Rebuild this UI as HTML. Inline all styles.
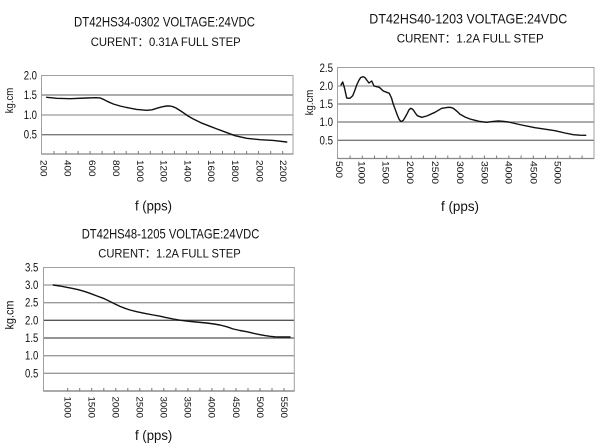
<!DOCTYPE html>
<html><head><meta charset="utf-8"><style>
html,body{margin:0;padding:0;background:#fff;}
svg{display:block;}
text{font-family:"Liberation Sans","Noto Sans CJK SC",sans-serif;fill:#111;}
</style></head><body>
<svg width="603" height="446" viewBox="0 0 603 446" xmlns="http://www.w3.org/2000/svg">
<rect width="603" height="446" fill="#fff"/>

<!-- ============ CHART 1 ============ -->
<text x="74" y="26.7" font-size="14" textLength="181" lengthAdjust="spacingAndGlyphs">DT42HS34-0302 VOLTAGE:24VDC</text>
<text x="90.7" y="46" font-size="12" textLength="150" lengthAdjust="spacingAndGlyphs">CURENT：0.31A  FULL STEP</text>
<g stroke="#7a7a7a" stroke-width="1.3">
<line x1="41.5" y1="95" x2="293" y2="95"/>
<line x1="41.5" y1="115" x2="293" y2="115" stroke="#9a9a9a"/>
<line x1="41.5" y1="134.7" x2="293" y2="134.7"/>
</g>
<rect x="41.5" y="75.5" width="251.5" height="78.5" fill="none" stroke="#a0a0a0" stroke-width="1"/>
<line x1="41.5" y1="154" x2="293" y2="154" stroke="#888" stroke-width="1.2"/>
<g stroke="#777" stroke-width="1">
<line x1="54" y1="151" x2="54" y2="154"/><line x1="66" y1="151" x2="66" y2="154"/><line x1="78.1" y1="151" x2="78.1" y2="154"/><line x1="90.1" y1="151" x2="90.1" y2="154"/><line x1="102.1" y1="151" x2="102.1" y2="154"/><line x1="114.2" y1="151" x2="114.2" y2="154"/><line x1="126.2" y1="151" x2="126.2" y2="154"/><line x1="138.3" y1="151" x2="138.3" y2="154"/><line x1="150.3" y1="151" x2="150.3" y2="154"/><line x1="162.3" y1="151" x2="162.3" y2="154"/><line x1="174.4" y1="151" x2="174.4" y2="154"/><line x1="186.4" y1="151" x2="186.4" y2="154"/><line x1="198.4" y1="151" x2="198.4" y2="154"/><line x1="210.5" y1="151" x2="210.5" y2="154"/><line x1="222.5" y1="151" x2="222.5" y2="154"/><line x1="234.6" y1="151" x2="234.6" y2="154"/><line x1="246.6" y1="151" x2="246.6" y2="154"/><line x1="258.6" y1="151" x2="258.6" y2="154"/><line x1="270.7" y1="151" x2="270.7" y2="154"/><line x1="282.7" y1="151" x2="282.7" y2="154"/>
</g>
<g font-size="12" text-anchor="end" dominant-baseline="central">
<text x="37" y="75.5" textLength="13.3" lengthAdjust="spacingAndGlyphs">2.0</text>
<text x="37" y="95" textLength="13.3" lengthAdjust="spacingAndGlyphs">1.5</text>
<text x="37" y="115" textLength="13.3" lengthAdjust="spacingAndGlyphs">1.0</text>
<text x="37" y="134.7" textLength="13.3" lengthAdjust="spacingAndGlyphs">0.5</text>
</g>
<g font-size="9" dominant-baseline="central">
<text transform="translate(43.7,160) rotate(90)" textLength="16.5" lengthAdjust="spacingAndGlyphs">200</text>
<text transform="translate(67.6,160) rotate(90)" textLength="16.5" lengthAdjust="spacingAndGlyphs">400</text>
<text transform="translate(92,160) rotate(90)" textLength="16.5" lengthAdjust="spacingAndGlyphs">600</text>
<text transform="translate(116,160) rotate(90)" textLength="16.5" lengthAdjust="spacingAndGlyphs">800</text>
<text transform="translate(139.8,160) rotate(90)" textLength="22" lengthAdjust="spacingAndGlyphs">1000</text>
<text transform="translate(163.3,160) rotate(90)" textLength="22" lengthAdjust="spacingAndGlyphs">1200</text>
<text transform="translate(187.3,160) rotate(90)" textLength="22" lengthAdjust="spacingAndGlyphs">1400</text>
<text transform="translate(211,160) rotate(90)" textLength="22" lengthAdjust="spacingAndGlyphs">1600</text>
<text transform="translate(235,160) rotate(90)" textLength="22" lengthAdjust="spacingAndGlyphs">1800</text>
<text transform="translate(259.3,160) rotate(90)" textLength="22" lengthAdjust="spacingAndGlyphs">2000</text>
<text transform="translate(283,160) rotate(90)" textLength="22" lengthAdjust="spacingAndGlyphs">2200</text>
</g>
<text transform="translate(10,100.5) rotate(-90)" font-size="11" text-anchor="middle" dominant-baseline="central" textLength="25.5" lengthAdjust="spacingAndGlyphs">kg.cm</text>
<text x="135" y="210.5" font-size="13.5" textLength="37" lengthAdjust="spacingAndGlyphs">f (pps)</text>
<polyline fill="none" stroke="#111" stroke-width="1.4" stroke-linejoin="round" stroke-linecap="round"
points="46.7,97.3 56.7,98.3 70,98.7 86.7,98 96,97.7 100,97.9 103.3,99.3 108,101.7 113.3,104 120,106 126.7,107.5 136.7,109.4 146.7,110.3 152,109.8 156.7,108.3 162,106.8 166.7,106 170,106 173,106.7 176,108 180,110.5 183.3,112.7 188,116 193.3,119 201,122.8 210,126.3 217,129 223.3,131.3 235,135.7 246.7,138.3 260,139.7 273.3,140.4 286.7,142"/>

<!-- ============ CHART 2 ============ -->
<text x="369.3" y="23.3" font-size="14" textLength="198" lengthAdjust="spacingAndGlyphs">DT42HS40-1203 VOLTAGE:24VDC</text>
<text x="396.7" y="42.3" font-size="12" textLength="147" lengthAdjust="spacingAndGlyphs">CURENT：1.2A  FULL STEP</text>
<g stroke="#7a7a7a" stroke-width="1.3">
<line x1="337.5" y1="86" x2="594" y2="86" stroke="#9a9a9a"/>
<line x1="337.5" y1="104" x2="594" y2="104"/>
<line x1="337.5" y1="122" x2="594" y2="122"/>
<line x1="337.5" y1="140.3" x2="594" y2="140.3"/>
</g>
<rect x="337.5" y="67.5" width="256.5" height="91" fill="none" stroke="#a0a0a0" stroke-width="1"/>
<line x1="337.5" y1="158.5" x2="594" y2="158.5" stroke="#888" stroke-width="1.2"/>
<g stroke="#777" stroke-width="1">
<line x1="350.1" y1="155.5" x2="350.1" y2="158.5"/><line x1="362.3" y1="155.5" x2="362.3" y2="158.5"/><line x1="374.5" y1="155.5" x2="374.5" y2="158.5"/><line x1="386.7" y1="155.5" x2="386.7" y2="158.5"/><line x1="398.9" y1="155.5" x2="398.9" y2="158.5"/><line x1="411.2" y1="155.5" x2="411.2" y2="158.5"/><line x1="423.4" y1="155.5" x2="423.4" y2="158.5"/><line x1="435.6" y1="155.5" x2="435.6" y2="158.5"/><line x1="447.8" y1="155.5" x2="447.8" y2="158.5"/><line x1="460" y1="155.5" x2="460" y2="158.5"/><line x1="472.2" y1="155.5" x2="472.2" y2="158.5"/><line x1="484.4" y1="155.5" x2="484.4" y2="158.5"/><line x1="496.6" y1="155.5" x2="496.6" y2="158.5"/><line x1="508.9" y1="155.5" x2="508.9" y2="158.5"/><line x1="521.1" y1="155.5" x2="521.1" y2="158.5"/><line x1="533.3" y1="155.5" x2="533.3" y2="158.5"/><line x1="545.5" y1="155.5" x2="545.5" y2="158.5"/><line x1="557.7" y1="155.5" x2="557.7" y2="158.5"/><line x1="569.9" y1="155.5" x2="569.9" y2="158.5"/><line x1="582.1" y1="155.5" x2="582.1" y2="158.5"/>
</g>
<g font-size="12" text-anchor="end" dominant-baseline="central">
<text x="333" y="68" textLength="13.5" lengthAdjust="spacingAndGlyphs">2.5</text>
<text x="333" y="86" textLength="13.5" lengthAdjust="spacingAndGlyphs">2.0</text>
<text x="333" y="104" textLength="13.5" lengthAdjust="spacingAndGlyphs">1.5</text>
<text x="333" y="122" textLength="13.5" lengthAdjust="spacingAndGlyphs">1.0</text>
<text x="333" y="140.3" textLength="13.5" lengthAdjust="spacingAndGlyphs">0.5</text>
</g>
<g font-size="9" dominant-baseline="central">
<text transform="translate(339,161) rotate(90)" textLength="17" lengthAdjust="spacingAndGlyphs">500</text>
<text transform="translate(361.7,161) rotate(90)" textLength="23" lengthAdjust="spacingAndGlyphs">1000</text>
<text transform="translate(385.7,161) rotate(90)" textLength="23" lengthAdjust="spacingAndGlyphs">1500</text>
<text transform="translate(410,161) rotate(90)" textLength="23" lengthAdjust="spacingAndGlyphs">2000</text>
<text transform="translate(435,161) rotate(90)" textLength="23" lengthAdjust="spacingAndGlyphs">2500</text>
<text transform="translate(460,161) rotate(90)" textLength="23" lengthAdjust="spacingAndGlyphs">3000</text>
<text transform="translate(484.3,161) rotate(90)" textLength="23" lengthAdjust="spacingAndGlyphs">3500</text>
<text transform="translate(508.3,161) rotate(90)" textLength="23" lengthAdjust="spacingAndGlyphs">4000</text>
<text transform="translate(533.3,161) rotate(90)" textLength="23" lengthAdjust="spacingAndGlyphs">4500</text>
<text transform="translate(557.7,161) rotate(90)" textLength="23" lengthAdjust="spacingAndGlyphs">5000</text>
</g>
<text transform="translate(310,102.5) rotate(-90)" font-size="11" text-anchor="middle" dominant-baseline="central" textLength="25.5" lengthAdjust="spacingAndGlyphs">kg.cm</text>
<text x="441" y="211" font-size="13.5" textLength="38" lengthAdjust="spacingAndGlyphs">f (pps)</text>
<polyline fill="none" stroke="#111" stroke-width="1.4" stroke-linejoin="round" stroke-linecap="round"
points="341,85 342.7,82 344.5,88 346.7,98 350,98.3 352.7,95.7 355,90 356.7,85 358.8,80.5 360.7,77.5 363.3,76.7 365.2,77.8 366.7,80 369,83 371.7,81 374,86 376.7,86.7 379.3,87.3 383.3,91 386.7,92.3 389.3,93.3 391.5,98 393.3,104.3 397.3,115 399.2,119.5 400.7,121.3 402,121.2 403.3,120.3 405.3,117 407.3,113.3 409,109.8 410.7,108.3 412,108.8 413.3,110 415.3,113 417.3,115.7 421.7,117.3 426.7,116 435,112.3 441.7,108.3 448.3,107.3 451,107.5 453.3,108.3 457,111.3 460,114.3 465,117 470,119 475,120.3 480,121.5 486.7,122.3 492,121.6 498.3,121 503,121.3 508.3,122 515,123.5 521.7,125 535,127.7 545,129.2 555,130.7 565,133 573.3,134.7 580,135.2 585.7,135.3"/>

<!-- ============ CHART 3 ============ -->
<text x="81.7" y="238.3" font-size="14" textLength="177.6" lengthAdjust="spacingAndGlyphs">DT42HS48-1205 VOLTAGE:24VDC</text>
<text x="98.3" y="257.7" font-size="12" textLength="142.4" lengthAdjust="spacingAndGlyphs">CURENT：1.2A  FULL STEP</text>
<g stroke="#7a7a7a" stroke-width="1.3">
<line x1="43.5" y1="285" x2="294.3" y2="285" stroke="#9a9a9a"/>
<line x1="43.5" y1="302.7" x2="294.3" y2="302.7" stroke="#9a9a9a"/>
<line x1="43.5" y1="320.3" x2="294.3" y2="320.3" stroke="#555"/>
<line x1="43.5" y1="338" x2="294.3" y2="338" stroke="#555"/>
<line x1="43.5" y1="355.7" x2="294.3" y2="355.7" stroke="#9a9a9a"/>
<line x1="43.5" y1="373.3" x2="294.3" y2="373.3" stroke="#9a9a9a"/>
</g>
<rect x="43.5" y="267.5" width="250.8" height="123.5" fill="none" stroke="#a0a0a0" stroke-width="1"/>
<line x1="43.5" y1="391" x2="294.3" y2="391" stroke="#777" stroke-width="1.3"/>
<g stroke="#777" stroke-width="1">
<line x1="67.7" y1="388" x2="67.7" y2="391"/><line x1="79.7" y1="388" x2="79.7" y2="391"/><line x1="91.7" y1="388" x2="91.7" y2="391"/><line x1="103.8" y1="388" x2="103.8" y2="391"/><line x1="115.8" y1="388" x2="115.8" y2="391"/><line x1="127.8" y1="388" x2="127.8" y2="391"/><line x1="139.8" y1="388" x2="139.8" y2="391"/><line x1="151.8" y1="388" x2="151.8" y2="391"/><line x1="163.8" y1="388" x2="163.8" y2="391"/><line x1="175.9" y1="388" x2="175.9" y2="391"/><line x1="187.9" y1="388" x2="187.9" y2="391"/><line x1="199.9" y1="388" x2="199.9" y2="391"/><line x1="211.9" y1="388" x2="211.9" y2="391"/><line x1="223.9" y1="388" x2="223.9" y2="391"/><line x1="236" y1="388" x2="236" y2="391"/><line x1="248" y1="388" x2="248" y2="391"/><line x1="260" y1="388" x2="260" y2="391"/><line x1="272" y1="388" x2="272" y2="391"/><line x1="284" y1="388" x2="284" y2="391"/>
</g>
<g font-size="12" text-anchor="end" dominant-baseline="central">
<text x="38.3" y="267.5" textLength="13.3" lengthAdjust="spacingAndGlyphs">3.5</text>
<text x="38.3" y="285" textLength="13.3" lengthAdjust="spacingAndGlyphs">3.0</text>
<text x="38.3" y="302.7" textLength="13.3" lengthAdjust="spacingAndGlyphs">2.5</text>
<text x="38.3" y="320.3" textLength="13.3" lengthAdjust="spacingAndGlyphs">2.0</text>
<text x="38.3" y="338" textLength="13.3" lengthAdjust="spacingAndGlyphs">1.5</text>
<text x="38.3" y="355.7" textLength="13.3" lengthAdjust="spacingAndGlyphs">1.0</text>
<text x="38.3" y="373.3" textLength="13.3" lengthAdjust="spacingAndGlyphs">0.5</text>
</g>
<g font-size="9" dominant-baseline="central">
<text transform="translate(67.7,396.5) rotate(90)" textLength="21.5" lengthAdjust="spacingAndGlyphs">1000</text>
<text transform="translate(91.3,396.5) rotate(90)" textLength="21.5" lengthAdjust="spacingAndGlyphs">1500</text>
<text transform="translate(115.3,396.5) rotate(90)" textLength="21.5" lengthAdjust="spacingAndGlyphs">2000</text>
<text transform="translate(139.3,396.5) rotate(90)" textLength="21.5" lengthAdjust="spacingAndGlyphs">2500</text>
<text transform="translate(163.5,396.5) rotate(90)" textLength="21.5" lengthAdjust="spacingAndGlyphs">3000</text>
<text transform="translate(187.7,396.5) rotate(90)" textLength="21.5" lengthAdjust="spacingAndGlyphs">3500</text>
<text transform="translate(211.7,396.5) rotate(90)" textLength="21.5" lengthAdjust="spacingAndGlyphs">4000</text>
<text transform="translate(236,396.5) rotate(90)" textLength="21.5" lengthAdjust="spacingAndGlyphs">4500</text>
<text transform="translate(260,396.5) rotate(90)" textLength="21.5" lengthAdjust="spacingAndGlyphs">5000</text>
<text transform="translate(284,396.5) rotate(90)" textLength="21.5" lengthAdjust="spacingAndGlyphs">5500</text>
</g>
<text transform="translate(9.5,315) rotate(-90)" font-size="12" text-anchor="middle" dominant-baseline="central" textLength="29" lengthAdjust="spacingAndGlyphs">kg.cm</text>
<text x="135" y="440" font-size="13.5" textLength="37.3" lengthAdjust="spacingAndGlyphs">f (pps)</text>
<polyline fill="none" stroke="#111" stroke-width="1.4" stroke-linejoin="round" stroke-linecap="round"
points="53.3,285 60,286 66.7,287.3 72,288.3 78.3,289.7 84,291.3 90,293.3 96,295.6 103.3,298.3 109,301 115,304 120,306.4 125,308.3 130,310 136.7,311.7 145,313.4 153.3,315 160,316.2 166,317.6 173.3,319 180,320.2 186.7,321 196,322 206.7,323 214,324 220,325 227,326.8 233.3,329 240,330.5 246.7,331.7 253,333.2 260,334.7 265,335.6 270,336.3 275,336.8 280,337 290,337"/>
</svg>
</body></html>
